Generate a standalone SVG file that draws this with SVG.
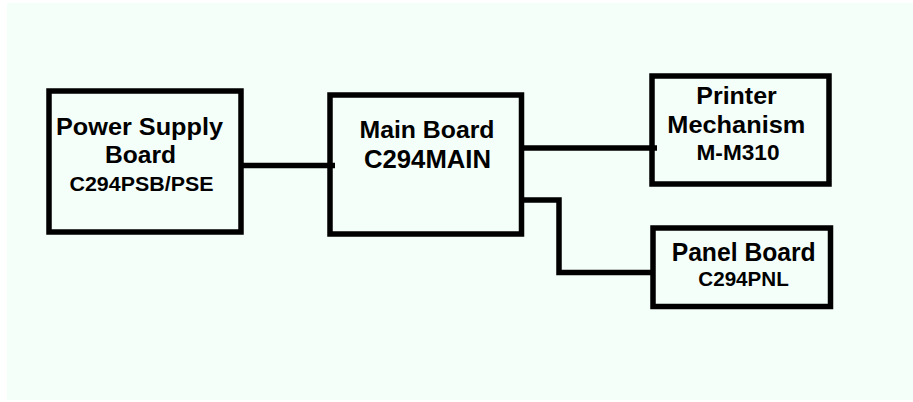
<svg xmlns="http://www.w3.org/2000/svg" width="913" height="402" viewBox="0 0 913 402">
<style>
.box{fill:none;stroke:#000;stroke-width:5.5}
.wire{fill:none;stroke:#000;stroke-width:5.5;stroke-linejoin:miter}
text{font-family:"Liberation Sans",Arial,Helvetica,sans-serif;font-weight:bold;fill:#000}
</style>
<rect x="0" y="0" width="913" height="402" fill="#ffffff"/>
<rect x="7" y="3" width="906" height="397" fill="#f5fffa"/>
<g id="connectors">
<line class="wire" x1="243" y1="165.5" x2="335" y2="165.5"/>
<line class="wire" x1="523" y1="148" x2="657" y2="148"/>
<polyline class="wire" points="521,200 559,200 559,272.5 653,272.5"/>
</g>
<g id="power-supply">
<rect class="box" x="49" y="91" width="192" height="141"/>
<text x="56" y="135" font-size="24.5" textLength="167" lengthAdjust="spacingAndGlyphs">Power Supply</text>
<text x="105" y="163.3" font-size="24.5" textLength="71" lengthAdjust="spacingAndGlyphs">Board</text>
<text x="69.5" y="190.5" font-size="20" textLength="144" lengthAdjust="spacingAndGlyphs">C294PSB/PSE</text>
</g>
<g id="main-board">
<rect class="box" x="330" y="95" width="191.5" height="139"/>
<text x="359.5" y="137.7" font-size="24" textLength="135" lengthAdjust="spacingAndGlyphs">Main Board</text>
<text x="364" y="168.3" font-size="25" textLength="127" lengthAdjust="spacingAndGlyphs">C294MAIN</text>
</g>
<g id="printer-mechanism">
<rect class="box" x="652" y="76" width="177" height="108"/>
<text x="696.3" y="104" font-size="24.5" textLength="80.5" lengthAdjust="spacingAndGlyphs">Printer</text>
<text x="667.3" y="132.7" font-size="24.5" textLength="138" lengthAdjust="spacingAndGlyphs">Mechanism</text>
<text x="696.5" y="160" font-size="21.5" textLength="83" lengthAdjust="spacingAndGlyphs">M-M310</text>
</g>
<g id="panel-board">
<rect class="box" x="653" y="228" width="177.5" height="78.5"/>
<text x="671.7" y="260.7" font-size="25" textLength="144" lengthAdjust="spacingAndGlyphs">Panel Board</text>
<text x="698.3" y="286" font-size="20" textLength="90.5" lengthAdjust="spacingAndGlyphs">C294PNL</text>
</g>
</svg>
